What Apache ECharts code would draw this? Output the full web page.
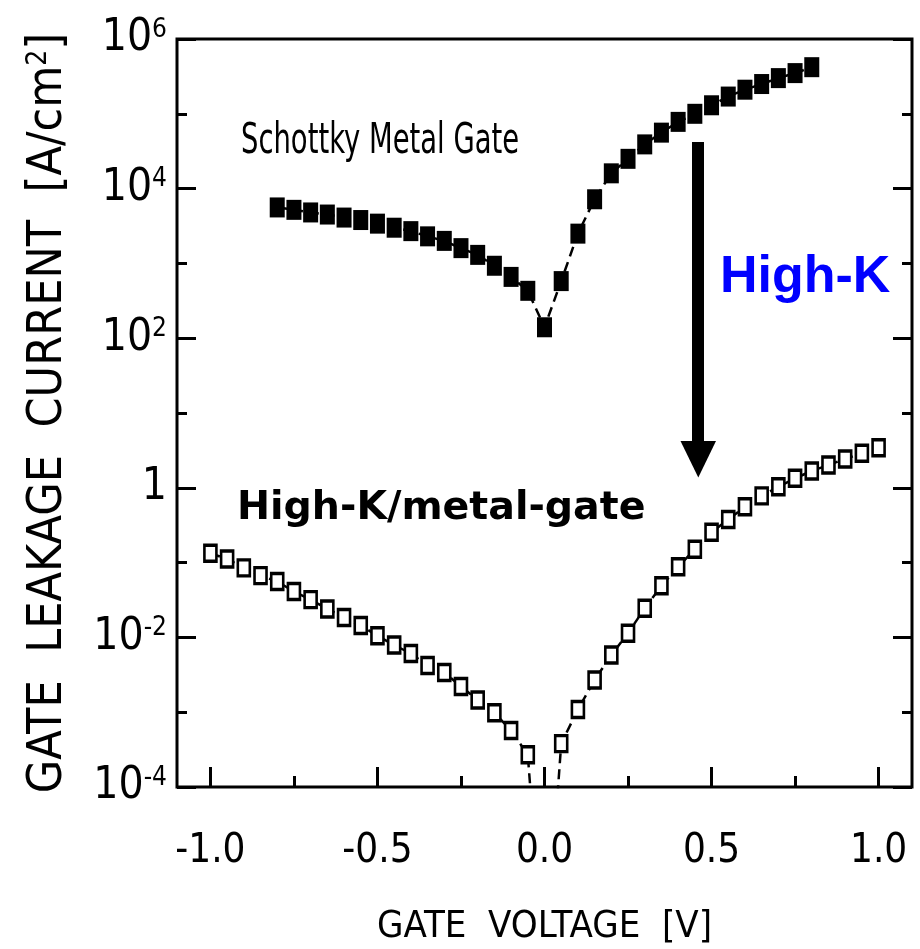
<!DOCTYPE html>
<html>
<head>
<meta charset="utf-8">
<script src="https://cdn.jsdelivr.net/npm/echarts@6/dist/echarts.min.js"></script>
<style>
  html, body { margin: 0; padding: 0; background: #ffffff; }
  #chart { width: 920px; height: 949px; }
</style>
</head>
<body>
<div id="chart"></div>
<script>
// Gate leakage current density (A/cm^2) versus gate voltage (V)
const schottkyVoltage = [
  -0.80, -0.75, -0.70, -0.65, -0.60, -0.55, -0.50, -0.45, -0.40, -0.35, -0.30,
  -0.25, -0.20, -0.15, -0.10, -0.05, 0.00, 0.05, 0.10, 0.15, 0.20, 0.25,
  0.30, 0.35, 0.40, 0.45, 0.50, 0.55, 0.60, 0.65, 0.70, 0.75, 0.80
];
const schottkyCurrent = [
  5.6e3, 5.2e3, 4.8e3, 4.5e3, 4.1e3, 3.8e3, 3.4e3, 3.0e3, 2.7e3, 2.3e3, 2.0e3,
  1.6e3, 1.3e3, 9.3e2, 6.6e2, 4.3e2, 1.4e2, 5.8e2, 2.5e3, 7.2e3, 1.6e4, 2.5e4,
  3.9e4, 5.6e4, 7.8e4, 1.0e5, 1.3e5, 1.7e5, 2.1e5, 2.5e5, 3.0e5, 3.5e5, 4.2e5
];
const highKVoltage = [
  -1.00, -0.95, -0.90, -0.85, -0.80, -0.75, -0.70, -0.65, -0.60, -0.55, -0.50,
  -0.45, -0.40, -0.35, -0.30, -0.25, -0.20, -0.15, -0.10, -0.05, 0.00,
  0.05, 0.10, 0.15, 0.20, 0.25, 0.30, 0.35, 0.40, 0.45, 0.50,
  0.55, 0.60, 0.65, 0.70, 0.75, 0.80, 0.85, 0.90, 0.95, 1.00
];
const highKCurrent = [
  0.133, 0.112, 0.085, 0.067, 0.056, 0.041, 0.032, 0.024, 0.0184, 0.0144, 0.0105,
  0.0079, 0.0061, 0.0042, 0.0034, 0.0022, 0.00146, 0.00098, 0.00057, 0.00027, 3e-7,
  0.00038, 0.00109, 0.0027, 0.0058, 0.0114, 0.0245, 0.049, 0.088, 0.151, 0.254,
  0.378, 0.558, 0.78, 1.03, 1.34, 1.68, 2.02, 2.43, 2.89, 3.44
];
const voltageMajorTicks = [-1.0, -0.5, 0.0, 0.5, 1.0];
const voltageMinorTicks = [-0.75, -0.25, 0.25, 0.75];

const axisFont = "'DejaVu Sans Condensed', 'Liberation Sans Narrow', 'DejaVu Sans', sans-serif";

const chart = echarts.init(document.getElementById('chart'), null, { renderer: 'canvas' });

function pairs(xs, ys) {
  return xs.map((x, i) => [x, ys[i]]);
}

function decadeLabel(value) {
  const e = Math.round(Math.log10(value));
  if (e === 0) return '{b|1}';
  return '{b|10}{s|' + e + '}';
}

const xBase = {
  type: 'value',
  min: -1.1,
  max: 1.1,
  position: 'bottom',
  axisLine: { show: false, onZero: false },
  splitLine: { show: false }
};

const yBase = {
  type: 'log',
  logBase: 10,
  min: 1e-4,
  max: 1e6,
  axisLine: { show: false, onZero: false },
  splitLine: { show: false },
  minorTick: { show: false }
};

chart.setOption({
  animation: false,
  backgroundColor: '#ffffff',
  grid: {
    left: 177, right: 8, top: 39, bottom: 162,
    show: true,
    borderColor: '#000000',
    borderWidth: 3,
    backgroundColor: 'transparent',
    containLabel: false,
    outerBoundsMode: 'none'
  },
  xAxis: [
    Object.assign({}, xBase, {
      name: 'GATE  VOLTAGE  [V]',
      nameLocation: 'middle',
      nameGap: 121,
      nameTextStyle: { fontFamily: axisFont, fontSize: 38, color: '#000' },
      axisTick: {
        show: true, inside: true, length: 20,
        customValues: voltageMajorTicks,
        lineStyle: { color: '#000', width: 3 }
      },
      axisLabel: {
        show: true,
        customValues: voltageMajorTicks,
        margin: 45,
        fontFamily: axisFont,
        fontSize: 40,
        color: '#000',
        formatter: v => v.toFixed(1)
      }
    }),
    Object.assign({}, xBase, {
      axisTick: {
        show: true, inside: true, length: 11,
        customValues: voltageMinorTicks,
        lineStyle: { color: '#000', width: 3 }
      },
      axisLabel: { show: false }
    })
  ],
  yAxis: [
    Object.assign({}, yBase, {
      position: 'left',
      interval: 2,
      name: '{t|GATE  LEAKAGE  CURRENT  [A/cm}{s|2}{t|]}',
      nameLocation: 'middle',
      nameRotate: 90,
      nameGap: 104,
      nameTextStyle: {
        rich: {
          t: { fontFamily: axisFont, fontSize: 48, color: '#000' },
          s: { fontFamily: axisFont, fontSize: 28, color: '#000', verticalAlign: 'top' }
        }
      },
      axisTick: { show: true, inside: true, length: 19, lineStyle: { color: '#000', width: 3 } },
      axisLabel: {
        show: true,
        margin: 10,
        formatter: decadeLabel,
        rich: {
          b: { fontFamily: axisFont, fontSize: 44, color: '#000' },
          s: { fontFamily: axisFont, fontSize: 26, color: '#000', verticalAlign: 'top' }
        }
      }
    }),
    Object.assign({}, yBase, {
      position: 'left',
      interval: 1,
      axisTick: { show: true, inside: true, length: 10, lineStyle: { color: '#000', width: 3 } },
      axisLabel: { show: false }
    }),
    Object.assign({}, yBase, {
      position: 'right',
      interval: 2,
      axisTick: { show: true, inside: true, length: 19, lineStyle: { color: '#000', width: 3 } },
      axisLabel: { show: false }
    }),
    Object.assign({}, yBase, {
      position: 'right',
      interval: 1,
      axisTick: { show: true, inside: true, length: 10, lineStyle: { color: '#000', width: 3 } },
      axisLabel: { show: false }
    })
  ],
  series: [
    {
      name: 'Schottky Metal Gate',
      type: 'line',
      xAxisIndex: 0,
      yAxisIndex: 0,
      data: pairs(schottkyVoltage, schottkyCurrent),
      symbol: 'rect',
      symbolSize: [15, 20],
      itemStyle: { color: '#000000' },
      lineStyle: { color: '#000000', width: 2.5, type: [10, 6] },
      emphasis: { disabled: true },
      clip: true,
      z: 3
    },
    {
      name: 'High-K/metal-gate',
      type: 'line',
      xAxisIndex: 0,
      yAxisIndex: 0,
      data: pairs(highKVoltage, highKCurrent),
      symbol: 'rect',
      symbolSize: [12, 16],
      itemStyle: { color: '#ffffff', borderColor: '#000000', borderWidth: 3 },
      lineStyle: { color: '#000000', width: 2.5, type: [10, 6] },
      emphasis: { disabled: true },
      clip: true,
      z: 3
    }
  ],
  graphic: [
    {
      type: 'text',
      x: 241, y: 142,
      scaleX: 0.653,
      z: 10,
      style: {
        text: 'Schottky Metal Gate',
        fontFamily: "'DejaVu Sans'",
        fontSize: 42,
        fill: '#000',
        align: 'left', textAlign: 'left',
        verticalAlign: 'middle', textVerticalAlign: 'middle'
      }
    },
    {
      type: 'text',
      x: 720, y: 278,
      z: 10,
      style: {
        text: 'High-K',
        fontFamily: "'Liberation Sans'",
        fontWeight: 'bold',
        fontSize: 52,
        fill: '#0000ff',
        align: 'left', textAlign: 'left',
        verticalAlign: 'middle', textVerticalAlign: 'middle'
      }
    },
    {
      type: 'text',
      x: 237, y: 509,
      z: 10,
      style: {
        text: 'High-K/metal-gate',
        fontFamily: "'DejaVu Sans'",
        fontWeight: 'bold',
        fontSize: 39.5,
        fill: '#000',
        align: 'left', textAlign: 'left',
        verticalAlign: 'middle', textVerticalAlign: 'middle'
      }
    },
    {
      type: 'rect',
      z: 10,
      shape: { x: 692, y: 142, width: 12, height: 302 },
      style: { fill: '#000' }
    },
    {
      type: 'polygon',
      z: 10,
      shape: { points: [[680.5, 441], [716, 441], [698.3, 477.5]] },
      style: { fill: '#000' }
    }
  ]
});
</script>
</body>
</html>
